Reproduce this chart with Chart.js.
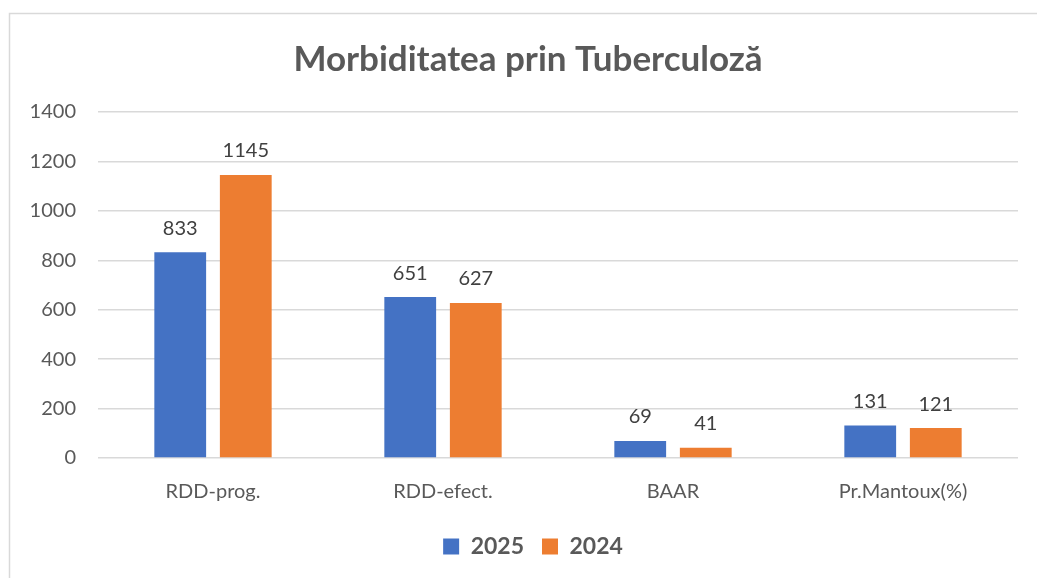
<!DOCTYPE html>
<html><head><meta charset="utf-8">
<script src="https://cdn.jsdelivr.net/npm/chart.js@4/dist/chart.umd.min.js"></script>
<style>html,body{margin:0;padding:0;background:#fff}#w{width:1037px;height:578px}</style>
</head><body><div id="w"><canvas id="c" width="1037" height="578"></canvas></div>
<script>
const categories = ["RDD-prog.", "RDD-efect.", "BAAR", "Pr.Mantoux(%)"];
const values2025 = [833, 651, 69, 131];
const values2024 = [1145, 627, 41, 121];
const seriesNames = ["2025", "2024"];
const titleText = "Morbiditatea prin Tuberculoză";
const FONT = "Lato, 'Liberation Sans', sans-serif";

const framePlugin = {
  id: 'frame',
  beforeDraw(chart) {
    const ctx = chart.ctx;
    ctx.save();
    ctx.fillStyle = '#fff';
    ctx.fillRect(0, 0, chart.width, chart.height);
    ctx.strokeStyle = '#d9d9d9';
    ctx.lineWidth = 1.5;
    ctx.beginPath();
    ctx.moveTo(9.5, chart.height + 5);
    ctx.lineTo(9.5, 13.5);
    ctx.lineTo(chart.width + 5, 13.5);
    ctx.stroke();
    ctx.restore();
  }
};

const shiftBoxes = {
  id: 'shiftBoxes',
  afterLayout(chart) {
    if (chart.legend) { chart.legend.left += 19; chart.legend.right += 19; }
    if (chart.titleBlock) { chart.titleBlock.left += 14; chart.titleBlock.right += 14; }
  }
};

const valueLabels = {
  id: 'valueLabels',
  afterDatasetsDraw(chart) {
    const ctx = chart.ctx;
    ctx.save();
    ctx.fillStyle = '#404040';
    ctx.font = "20px " + FONT;
    ctx.textAlign = 'center';
    ctx.textBaseline = 'bottom';
    chart.data.datasets.forEach((ds, i) => {
      chart.getDatasetMeta(i).data.forEach((bar, j) => {
        ctx.fillText(String(ds.data[j]), bar.x, bar.y - 14);
      });
    });
    ctx.restore();
  }
};

new Chart(document.getElementById('c'), {
  type: 'bar',
  data: {
    labels: categories,
    datasets: [
      { label: seriesNames[0], data: values2025, backgroundColor: '#4472C4', borderWidth: 0 },
      { label: seriesNames[1], data: values2024, backgroundColor: '#ED7D31', borderWidth: 0 }
    ]
  },
  options: {
    responsive: false,
    animation: false,
    devicePixelRatio: 1,
    layout: { padding: { left: 10, right: 19, top: 39, bottom: 10 } },
    datasets: { bar: { categoryPercentage: 0.57, barPercentage: 0.79 } },
    plugins: {
      title: {
        display: true, text: titleText, color: '#595959',
        font: { family: FONT, size: 35, weight: 'bold' },
        padding: { top: 0, bottom: 31 }
      },
      legend: {
        position: 'bottom',
        labels: {
          color: '#595959', boxWidth: 16, boxHeight: 16, padding: 18,
          font: { family: FONT, size: 23, weight: 'bold' }
        }
      },
      tooltip: { enabled: false }
    },
    scales: {
      x: {
        grid: { display: false, drawTicks: false },
        border: { display: false },
        ticks: { color: '#595959', font: { family: FONT, size: 20 }, padding: 22 },
        afterFit(s) { s.height = 59; }
      },
      y: {
        min: 0, max: 1400,
        ticks: { stepSize: 200, color: '#595959', font: { family: FONT, size: 20 }, padding: 22,
                 callback: (v) => String(v) },
        grid: { color: '#d9d9d9', lineWidth: 1.5, drawTicks: false },
        border: { display: false },
        afterFit(s) { s.width = 88; }
      }
    }
  },
  plugins: [framePlugin, shiftBoxes, valueLabels]
});
</script>
</body></html>
